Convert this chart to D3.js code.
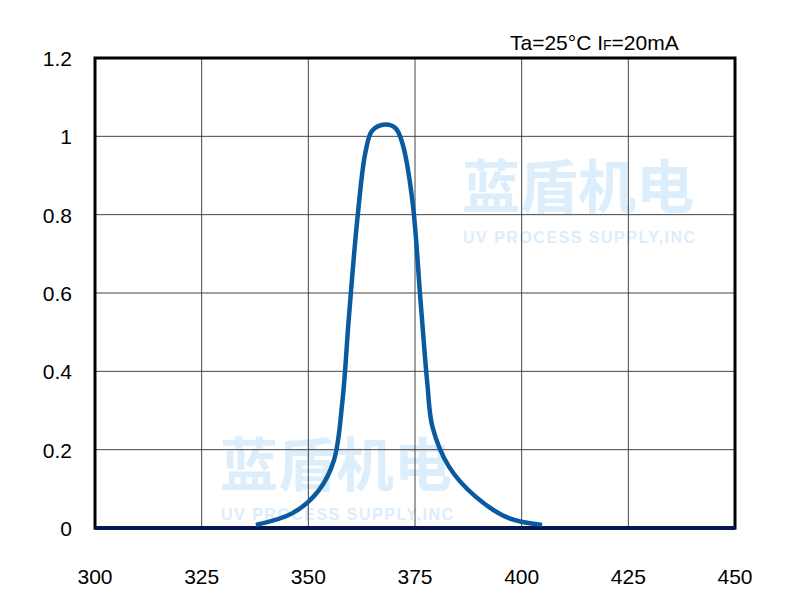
<!DOCTYPE html>
<html><head><meta charset="utf-8">
<script src="https://cdn.jsdelivr.net/npm/d3@7"></script>
<style>body{margin:0;background:#fff}</style>
</head><body><div id="chart"></div>
<script>
// spectrum
const wavelength = [337.7,346.3,352.5,356.0,358.0,359.5,361.5,363.4,365.0,368.1,370.5,372.1,374.4,376.3,377.9,379.1,383.0,389.2,397.0,404.8];
const intensity  = [0.008,0.038,0.097,0.173,0.325,0.537,0.79,0.96,1.015,1.03,1.02,0.98,0.835,0.58,0.368,0.258,0.156,0.08,0.025,0.008];
const xTicks = [300,325,350,375,400,425,450];
const yTicks = [0,0.2,0.4,0.6,0.8,1,1.2];

const W = 790, H = 605;
const m = {left: 95, right: 55, top: 58, bottom: 77};
const svg = d3.select('#chart').append('svg').attr('width', W).attr('height', H)
  .style('font-family', 'Liberation Sans, Arial, sans-serif');

const x = d3.scaleLinear().domain([300,450]).range([m.left, W - m.right]);
const y = d3.scaleLinear().domain([0,1.2]).range([H - m.bottom, m.top]);

// watermarks
const wm = svg.append('g').attr('fill', '#dcedfb');
wm.append('text').attr('x', 462).attr('y', 208).attr('font-size', 58).attr('font-weight', 'bold')
  .attr('font-family', 'Noto Sans CJK SC').text('蓝盾机电');
wm.append('text').attr('x', 463).attr('y', 243).attr('font-size', 16).attr('font-weight', 'bold')
  .attr('letter-spacing', 1.5).text('UV PROCESS SUPPLY,INC');
wm.append('text').attr('x', 220).attr('y', 486).attr('font-size', 58).attr('font-weight', 'bold')
  .attr('font-family', 'Noto Sans CJK SC').text('蓝盾机电');
wm.append('text').attr('x', 221).attr('y', 520).attr('font-size', 16).attr('font-weight', 'bold')
  .attr('letter-spacing', 1.5).text('UV PROCESS SUPPLY,INC');

// grid
svg.append('g').selectAll('line').data(xTicks).join('line')
  .attr('x1', d => x(d)).attr('x2', d => x(d)).attr('y1', y(1.2)).attr('y2', y(0))
  .attr('stroke', '#444').attr('stroke-width', 1);
svg.append('g').selectAll('line').data(yTicks).join('line')
  .attr('x1', x(300)).attr('x2', x(450)).attr('y1', d => y(d)).attr('y2', d => y(d))
  .attr('stroke', '#444').attr('stroke-width', 1);

svg.append('rect').attr('x', x(300)).attr('y', y(1.2))
  .attr('width', x(450) - x(300)).attr('height', y(0) - y(1.2))
  .attr('fill', 'none').attr('stroke', '#000').attr('stroke-width', 3);
svg.append('line').attr('x1', x(300)).attr('x2', x(450)).attr('y1', y(0)).attr('y2', y(0))
  .attr('stroke', '#0a1450').attr('stroke-width', 4);

// axis labels
svg.append('g').selectAll('text').data(xTicks).join('text')
  .attr('x', d => x(d)).attr('y', 584).attr('text-anchor', 'middle')
  .attr('font-size', 21).text(d => d);
svg.append('g').selectAll('text').data(yTicks).join('text')
  .attr('x', 72).attr('y', d => y(d) + 8).attr('text-anchor', 'end')
  .attr('font-size', 21).text(d => d);

// curve
const pts = wavelength.map((w, i) => [w, intensity[i]]);
svg.append('path').datum(pts)
  .attr('d', d3.line().x(d => x(d[0])).y(d => y(d[1])).curve(d3.curveCatmullRom))
  .attr('fill', 'none').attr('stroke', '#0a5aa0').attr('stroke-width', 4.5);

// condition note
const t = svg.append('text').attr('x', 510).attr('y', 50).attr('font-size', 21);
t.append('tspan').text('Ta=25°C I');
t.append('tspan').attr('font-size', 14).text('F');
t.append('tspan').text('=20mA');
</script></body></html>
